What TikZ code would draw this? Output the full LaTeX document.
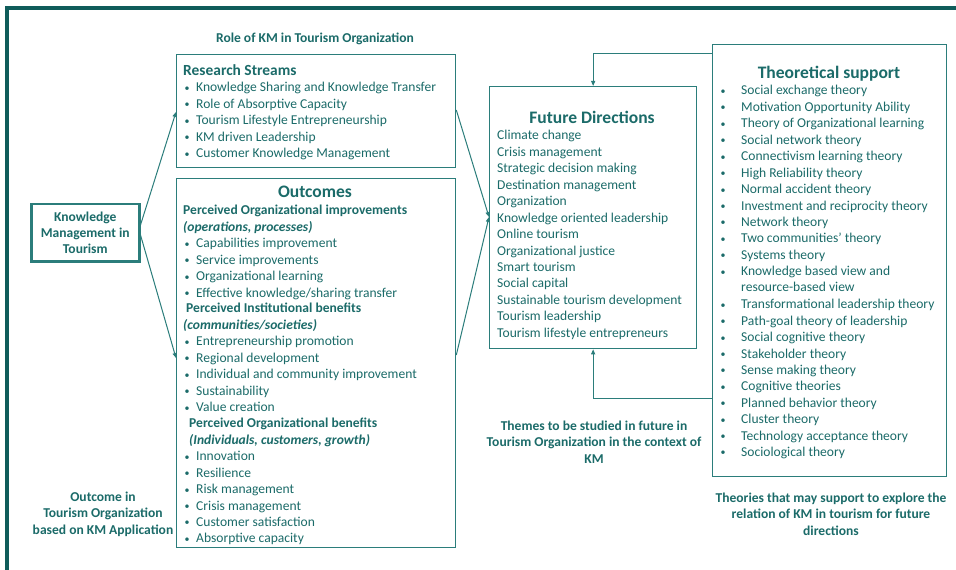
\documentclass[tikz,border=0pt]{standalone}
\usepackage{fontspec}
\setmainfont{Carlito}
\usetikzlibrary{calc,arrows.meta}
\definecolor{tealtxt}{HTML}{1B6B69}
\definecolor{tealbox}{HTML}{2B7D7B}
\definecolor{tealframe}{HTML}{0F5C5A}
\newcommand{\bul}[1]{\makebox[#1][l]{\hspace{1.5bp}\raisebox{0.5bp}{\fontsize{10}{10}\selectfont\textbullet}}}
\begin{document}
\begin{tikzpicture}[x=1bp,y=-1bp,
 box/.style={draw=tealbox, line width=1.3bp, inner sep=0pt, anchor=north west},
 txt/.style={text=tealtxt, inner sep=0pt, font=\fontsize{13.6}{16}\selectfont, anchor=mid west, yshift=-2.5bp},
 btxt/.style={txt, font=\bfseries\fontsize{13.6}{16}\selectfont},
 itxt/.style={txt, font=\bfseries\itshape\fontsize{13.6}{16}\selectfont},
 hd/.style={text=tealtxt, inner sep=0pt, font=\bfseries\fontsize{17.6}{20}\selectfont},
 captxt/.style={text=tealtxt, inner sep=0pt, font=\bfseries\fontsize{13.6}{16.5}\selectfont, align=center},
 conn/.style={draw=tealbox, line width=1bp, -{Triangle[length=5bp,width=4bp]}}]
\useasboundingbox (0,0) rectangle (956,570);
\fill[white] (0,0) rectangle (956,570);
\draw[tealframe, line width=3.5bp] (7,570) -- (7,8) -- (956,8);
% boxes
\node[box, minimum width=279bp, minimum height=113bp] (rs) at (176,54) {};
\node[box, minimum width=279bp, minimum height=369bp] (oc) at (176,178) {};
\node[box, line width=2.5bp, minimum width=108bp, minimum height=57bp] (km) at (30,203) {};
\node[box, minimum width=207bp, minimum height=262bp] (fd) at (489,86) {};
\node[box, minimum width=234bp, minimum height=432bp] (ts) at (712,44) {};
% KM box text
\node[captxt] (kmt) at (km.center) {Knowledge\\Management in\\Tourism};
% captions
\node[captxt] (role) at (315,39) {Role of KM in Tourism Organization};
\node[captxt] (themes) at (594,442) {Themes to be studied in future in\\Tourism Organization in the context of\\KM};
\node[captxt] (theories) at (831,514) {Theories that may support to explore the\\relation of KM in tourism for future\\directions};
\node[captxt] (outc) at (103,514) {Outcome in\\Tourism Organization\\based on KM Application};
% Research streams
\node[hd, anchor=mid west, font=\bfseries\fontsize{15.5}{18}\selectfont, yshift=-3bp] (rsh) at (183,70) {Research Streams};
\foreach \t [count=\i] in {Knowledge Sharing and Knowledge Transfer, Role of Absorptive Capacity, Tourism Lifestyle Entrepreneurship, KM driven Leadership, Customer Knowledge Management}
  \node[txt] (rs\i) at (183,{87+16.5*(\i-1)}) {\bul{13bp}\t};
% Outcomes
\node[hd] (och) at (315,192) {Outcomes};
\node[btxt] (p1) at (183,210) {Perceived Organizational improvements};
\node[itxt] (p1i) at (183,227) {(operations, processes)};
\foreach \t [count=\i] in {Capabilities improvement, Service improvements, Organizational learning, Effective knowledge/sharing transfer}
  \node[txt] (oa\i) at (183,{243+16.4*(\i-1)}) {\bul{13bp}\t};
\node[btxt] (p2) at (186,308) {Perceived Institutional benefits};
\node[itxt] (p2i) at (183,325) {(communities/societies)};
\foreach \t [count=\i] in {Entrepreneurship promotion, Regional development, Individual and community improvement, Sustainability, Value creation}
  \node[txt] (ob\i) at (183,{341+16.5*(\i-1)}) {\bul{13bp}\t};
\node[btxt] (p3) at (189,423) {Perceived Organizational benefits};
\node[itxt] (p3i) at (189,440) {(Individuals, customers, growth)};
\foreach \t [count=\i] in {Innovation, Resilience, Risk management, Crisis management, Customer satisfaction, Absorptive capacity}
  \node[txt] (oc\i) at (183,{456+16.4*(\i-1)}) {\bul{13bp}\t};
% Future directions
\node[hd] (fdh) at (592,117.5) {Future Directions};
\foreach \t [count=\i] in {Climate change, Crisis management, Strategic decision making, Destination management, Organization, Knowledge oriented leadership, Online tourism, Organizational justice, Smart tourism, Social capital, Sustainable tourism development, Tourism leadership, Tourism lifestyle entrepreneurs}
  \node[txt] (fd\i) at (497,{135+16.45*(\i-1)}) {\t};
% Theoretical support
\node[hd] (tsh) at (829,73.5) {Theoretical support};
\foreach \t [count=\i] in {Social exchange theory, Motivation Opportunity Ability, Theory of Organizational learning, Social network theory, Connectivism learning theory, High Reliability theory, Normal accident theory, Investment and reciprocity theory, Network theory, Two communities' theory, Systems theory, Knowledge based view and}
  \node[txt] (ts\i) at (719,{90+16.45*(\i-1)}) {\bul{22bp}\t};
\node[txt] (tsx) at (741,287) {resource-based view};
\foreach \t [count=\i] in {Transformational leadership theory, Path-goal theory of leadership, Social cognitive theory, Stakeholder theory, Sense making theory, Cognitive theories, Planned behavior theory, Cluster theory, Technology acceptance theory, Sociological theory}
  \node[txt] (tt\i) at (719,{304+16.4*(\i-1)}) {\bul{22bp}\t};
% connectors
\draw[conn] ($(km.north east)+(0,22)$) -- ($(rs.north west)+(0,58)$);
\draw[conn] ($(km.north east)+(0,32)$) -- ($(oc.north west)+(0,180)$);
\draw[conn] ($(rs.north east)+(0,56)$) -- ($(fd.north west)+(0,131)$);
\draw[conn] ($(oc.north east)+(0,177)$) -- ($(fd.north west)+(0,131)$);
\draw[conn] ($(ts.north west)+(0,10)$) -| (fd.north);
\draw[conn] ($(ts.north west)+(0,354)$) -| (fd.south);
\end{tikzpicture}
\end{document}
